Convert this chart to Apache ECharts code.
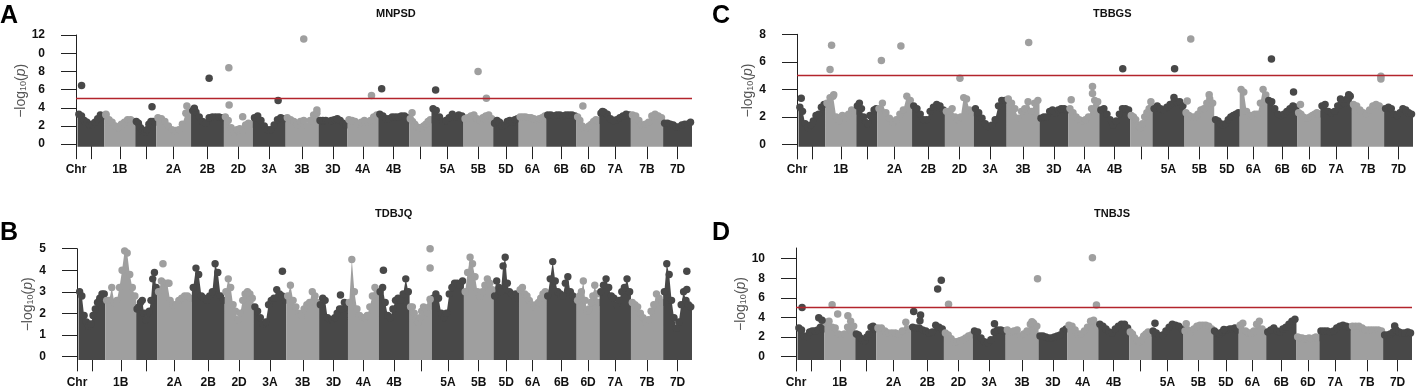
<!DOCTYPE html>
<html>
<head>
<meta charset="utf-8">
<script src="https://cdn.jsdelivr.net/npm/echarts@6/dist/echarts.min.js"></script>
<style>
  html, body { margin: 0; padding: 0; background: #fff; }
  #chart { width: 1416px; height: 389px; }
</style>
</head>
<body>
<div id="chart"></div>
<script>
// 染色体名称与长度 (Mb, 按图中宽度估计)
const chrNames = ['1A','1B','1D','2A','2B','2D','3A','3B','3D','4A','4B','4D','5A','5B','5D','6A','6B','6D','7A','7B','7D'];
const chrLen = [621, 713, 483, 805, 759, 667, 759, 759, 667, 713, 713, 515, 741, 685, 589, 635, 699, 529, 727, 745, 667];
// x轴标签: 第一个对应原点 "Chr", 空字符串表示该刻度无标签
const xLabels = ['Chr', '', '1B', '', '2A', '2B', '2D', '3A', '3B', '3D', '4A', '4B', '', '5A', '5B', '5D', '6A', '6B', '6D', '7A', '7B', '7D'];

// 每条染色体的 -log10(p) 上包络 (从左到右的采样)
const profA = [
  [3.3, 3.1, 2.6, 2.4, 2.1, 2.2, 2.4, 2.8, 3.2, 3.1],
  [3.2, 2.7, 2.4, 2.0, 1.8, 2.2, 2.4, 2.7, 2.7, 2.5],
  [2.5, 2.3, 1.8, 1.4, 1.3, 1.6, 2.2, 2.5, 2.5, 2.4],
  [2.9, 2.8, 2.5, 2.0, 1.6, 1.5, 1.6, 2.2, 3.4, 3.6],
  [3.7, 3.5, 3.0, 2.5, 2.3, 2.9, 3.0, 3.0, 3.0, 2.9],
  [3.0, 2.6, 1.8, 1.3, 1.6, 1.7, 1.5, 2.1, 2.3, 2.2],
  [2.9, 3.1, 2.6, 2.0, 1.6, 1.6, 2.1, 2.7, 2.9, 2.8],
  [2.9, 2.7, 2.5, 2.1, 2.5, 2.6, 2.0, 2.6, 3.2, 3.4],
  [2.6, 2.6, 2.6, 2.5, 2.6, 2.7, 2.8, 2.6, 2.3, 2.1],
  [2.7, 2.6, 2.5, 2.2, 2.4, 2.6, 2.4, 2.6, 3.0, 3.2],
  [3.3, 3.1, 2.8, 2.8, 3.0, 3.0, 3.0, 3.1, 3.1, 2.9],
  [2.8, 2.5, 2.2, 1.9, 1.8, 1.8, 2.0, 2.2, 2.5, 2.7],
  [3.9, 3.7, 3.0, 2.5, 2.6, 2.9, 3.3, 3.0, 3.2, 3.1],
  [2.8, 2.9, 3.1, 3.2, 2.8, 2.6, 2.9, 3.1, 3.2, 2.8],
  [2.3, 2.6, 2.4, 2.0, 2.1, 2.5, 2.6, 2.4, 2.7, 2.8],
  [3.0, 3.0, 3.0, 2.9, 2.9, 2.8, 2.7, 2.8, 2.9, 3.1],
  [3.2, 3.2, 3.1, 3.2, 3.2, 3.1, 3.2, 3.2, 3.2, 3.1],
  [3.0, 2.6, 2.0, 1.6, 1.8, 2.0, 2.2, 2.5, 2.7, 2.6],
  [3.4, 3.5, 3.3, 2.8, 2.6, 2.7, 2.9, 3.1, 3.3, 3.2],
  [3.2, 3.1, 2.6, 2.1, 2.2, 2.4, 3.1, 3.3, 3.1, 2.9],
  [2.3, 2.3, 2.2, 2.1, 1.9, 1.9, 2.1, 2.2, 2.2, 2.4]
];
// 离群点: [染色体序号, 染色体内相对位置, -log10(p)]
const outA = [
  [0, 0.15, 6.45], [1, 0.05, 3.3], [2, 0.8, 4.1], [3, 0.88, 4.2], [4, 0.1, 3.95], [4, 0.55, 7.25],
  [5, 0.17, 8.4], [5, 0.18, 4.3], [5, 0.65, 3.0], [6, 0.77, 4.8], [7, 0.55, 11.55], [7, 0.95, 3.75],
  [9, 0.78, 5.35], [10, 0.11, 6.1], [11, 0.13, 3.45], [12, 0.13, 5.95], [13, 0.49, 8.0], [13, 0.77, 5.05],
  [17, 0.28, 4.2], [18, 0.1, 3.6]
];

const profB = [
  [3.0, 2.8, 1.9, 1.6, 1.4, 1.5, 1.9, 2.2, 2.5, 2.7, 2.9, 2.9],
  [2.6, 2.6, 3.2, 2.5, 2.6, 3.2, 4.0, 4.9, 4.8, 3.8, 3.2, 2.8],
  [2.2, 2.3, 2.5, 2.6, 2.0, 1.7, 2.0, 2.1, 2.6, 3.6, 3.9, 3.2],
  [3.0, 3.5, 3.4, 3.4, 2.6, 2.4, 2.4, 2.6, 2.7, 2.8, 2.8, 2.7],
  [3.2, 4.1, 3.8, 2.8, 2.7, 2.6, 2.8, 3.0, 4.3, 3.9, 2.8, 2.6],
  [3.0, 3.6, 3.2, 2.4, 2.1, 1.7, 2.0, 2.6, 2.9, 3.0, 2.9, 2.7],
  [2.3, 2.1, 1.8, 1.5, 1.6, 2.4, 2.6, 2.7, 3.1, 2.9, 2.8, 2.6],
  [2.8, 3.3, 2.6, 2.3, 2.0, 1.9, 2.2, 2.4, 2.5, 3.0, 2.8, 2.5],
  [2.4, 2.7, 2.6, 1.8, 1.7, 1.7, 1.8, 2.0, 2.2, 2.2, 2.5, 2.3],
  [2.5, 4.5, 3.0, 2.2, 1.9, 1.8, 1.8, 1.9, 2.3, 2.8, 3.2, 3.0],
  [3.0, 3.2, 2.5, 1.9, 1.8, 2.2, 2.6, 2.7, 2.6, 2.9, 3.6, 3.0],
  [2.3, 2.3, 2.0, 1.7, 1.6, 1.8, 2.1, 2.3, 2.2, 2.0, 2.3, 2.5],
  [2.7, 2.9, 2.7, 2.0, 1.8, 2.0, 2.9, 3.2, 3.4, 3.4, 3.3, 3.5],
  [3.0, 3.9, 4.6, 4.3, 3.7, 3.0, 2.8, 3.0, 3.3, 3.6, 3.4, 3.1],
  [2.8, 3.5, 3.2, 3.0, 4.2, 4.6, 3.4, 3.0, 2.9, 2.8, 2.9, 2.7],
  [3.1, 3.2, 2.9, 2.8, 2.6, 2.4, 2.3, 2.4, 2.5, 2.7, 2.9, 3.0],
  [2.8, 3.6, 4.4, 3.5, 3.0, 2.9, 2.8, 3.4, 3.7, 3.0, 2.8, 2.7],
  [2.6, 2.8, 3.0, 3.5, 2.6, 2.1, 2.2, 2.5, 2.8, 3.3, 2.9, 2.5],
  [3.0, 3.3, 3.6, 3.2, 2.8, 2.7, 2.4, 2.6, 3.0, 3.2, 3.6, 3.0],
  [2.5, 2.4, 2.3, 2.0, 1.8, 1.6, 1.7, 2.1, 2.4, 2.9, 2.7, 2.5],
  [3.0, 4.3, 3.8, 2.6, 1.8, 1.3, 1.6, 2.4, 3.0, 2.6, 2.4, 2.3]
];
const outB = [
  [3, 0.17, 4.3], [3, 0.34, 3.4], [6, 0.88, 3.95], [8, 0.74, 2.85], [10, 0.15, 4.0],
  [11, 0.92, 5.0], [11, 0.92, 4.1], [11, 0.92, 2.65], [20, 0.82, 3.95], [20, 0.82, 3.1]
];

const profC = [
  [2.7, 2.4, 1.5, 1.2, 1.4, 1.7, 2.1, 2.2, 2.7, 2.9],
  [3.0, 3.4, 3.5, 2.0, 1.7, 2.1, 1.9, 2.2, 2.5, 2.4],
  [2.8, 3.0, 2.6, 2.0, 1.6, 1.5, 2.1, 2.0, 2.5, 2.6],
  [2.6, 3.0, 2.3, 1.9, 1.6, 1.8, 2.2, 2.5, 3.5, 3.2],
  [2.8, 2.6, 2.2, 1.8, 1.8, 2.4, 2.7, 2.9, 2.8, 2.5],
  [2.4, 2.4, 2.6, 2.0, 1.8, 2.0, 3.4, 3.3, 2.5, 2.3],
  [2.6, 2.3, 1.9, 1.5, 1.3, 1.4, 1.8, 2.8, 3.2, 3.2],
  [3.3, 3.0, 2.6, 1.9, 2.4, 2.6, 3.1, 2.4, 3.0, 3.2],
  [1.9, 2.0, 2.0, 2.4, 2.5, 2.3, 2.5, 2.6, 2.6, 2.5],
  [2.6, 2.3, 2.0, 1.8, 1.7, 1.8, 2.0, 2.6, 3.2, 3.1],
  [2.5, 2.6, 2.2, 1.8, 1.4, 1.7, 2.2, 2.6, 2.6, 2.5],
  [2.1, 2.0, 1.8, 1.4, 1.2, 1.5, 2.0, 2.3, 2.6, 2.7],
  [2.6, 2.8, 2.6, 2.5, 2.7, 2.9, 3.0, 3.1, 3.1, 2.8],
  [2.3, 2.1, 2.0, 2.0, 2.2, 2.5, 2.6, 3.0, 3.3, 3.0],
  [1.8, 1.7, 1.5, 1.4, 1.5, 1.8, 2.0, 2.1, 2.2, 2.3],
  [4.0, 3.8, 2.4, 2.1, 2.1, 2.2, 2.2, 3.0, 4.0, 3.6],
  [3.2, 3.1, 2.6, 2.2, 2.1, 2.2, 2.4, 2.6, 2.8, 2.7],
  [2.3, 2.2, 2.0, 1.9, 1.9, 2.0, 2.1, 2.2, 2.3, 2.2],
  [2.8, 2.9, 2.4, 2.3, 2.4, 2.8, 2.9, 3.0, 3.3, 3.5],
  [2.9, 2.8, 2.5, 2.3, 2.2, 2.5, 2.8, 2.9, 2.8, 2.6],
  [2.6, 2.7, 2.6, 2.2, 2.1, 2.3, 2.6, 2.5, 2.3, 2.2]
];
const outC = [
  [0, 0.1, 3.35], [1, 0.2, 7.2], [1, 0.15, 5.45], [1, 0.27, 3.6], [3, 0.12, 6.1], [3, 0.68, 7.15],
  [5, 0.52, 4.8], [7, 0.67, 7.4], [9, 0.09, 3.25], [9, 0.78, 4.2], [9, 0.78, 3.7], [10, 0.76, 5.5],
  [11, 0.93, 3.1], [12, 0.69, 5.5], [12, 0.67, 3.4], [13, 0.21, 7.65], [13, 0.09, 3.15], [13, 0.83, 3.6],
  [16, 0.14, 6.2], [16, 0.87, 3.8], [17, 0.13, 2.9], [18, 0.64, 3.3], [18, 0.9, 3.6], [19, 0.9, 4.95], [19, 0.9, 4.75]
];

const profD = [
  [2.9, 2.7, 2.1, 2.0, 2.5, 2.6, 2.6, 2.7, 3.0, 2.8],
  [3.5, 3.6, 3.0, 2.9, 2.3, 2.2, 2.3, 3.0, 3.6, 3.1],
  [2.3, 2.2, 1.9, 1.7, 1.6, 2.0, 2.3, 3.0, 3.1, 2.8],
  [2.9, 2.9, 2.6, 2.4, 2.4, 2.4, 2.3, 2.6, 3.5, 2.8],
  [3.0, 2.9, 2.9, 2.7, 2.6, 2.4, 2.5, 3.2, 3.0, 2.8],
  [2.4, 2.2, 1.8, 1.5, 1.5, 1.6, 1.7, 1.9, 2.1, 2.2],
  [2.6, 2.5, 1.9, 1.5, 1.4, 1.7, 2.5, 2.7, 2.7, 2.6],
  [2.7, 2.5, 2.6, 2.7, 2.1, 2.3, 2.6, 3.3, 3.4, 3.1],
  [2.1, 2.1, 2.0, 1.9, 1.9, 2.0, 2.1, 2.2, 2.6, 2.8],
  [3.2, 3.1, 2.7, 2.3, 2.3, 2.6, 3.0, 3.6, 3.7, 3.1],
  [3.3, 3.1, 2.8, 2.5, 2.4, 2.8, 3.1, 3.3, 3.3, 2.9],
  [2.5, 2.3, 1.9, 1.6, 1.5, 1.7, 2.1, 2.3, 2.5, 2.4],
  [2.6, 2.4, 2.1, 2.2, 2.6, 3.0, 3.3, 3.2, 3.1, 2.8],
  [2.6, 2.7, 2.5, 2.8, 3.1, 3.2, 3.2, 3.2, 3.1, 2.8],
  [2.6, 2.4, 2.3, 2.5, 2.6, 2.7, 2.8, 2.8, 2.9, 2.7],
  [3.2, 3.4, 2.6, 2.4, 2.4, 2.6, 3.3, 3.6, 2.8, 2.5],
  [2.5, 2.7, 2.9, 2.6, 2.5, 2.8, 3.0, 3.3, 3.6, 3.8],
  [2.0, 1.9, 1.9, 1.8, 1.8, 1.9, 1.8, 1.9, 2.0, 1.9],
  [2.6, 2.6, 2.6, 2.5, 2.6, 2.9, 3.1, 3.2, 3.1, 3.0],
  [3.1, 3.1, 3.1, 2.9, 2.7, 2.7, 2.7, 2.7, 2.7, 2.6],
  [2.2, 2.2, 2.3, 2.5, 2.7, 2.5, 2.4, 2.4, 2.5, 2.4]
];
const outD = [
  [0, 0.17, 5.0], [0, 0.79, 3.95], [0, 0.91, 3.7], [1, 0.25, 5.3], [1, 0.43, 4.35], [1, 0.76, 4.15],
  [4, 0.08, 4.6], [4, 0.29, 4.25], [4, 0.27, 3.65], [4, 0.81, 6.9], [4, 0.92, 7.8], [5, 0.16, 5.35],
  [6, 0.66, 3.35], [7, 0.97, 7.95], [7, 0.8, 3.55], [9, 0.81, 10.1], [9, 0.94, 5.25], [12, 0.11, 3.4],
  [13, 0.09, 3.35], [14, 0.42, 2.75], [20, 0.4, 3.1]
];

const DARK = '#484848';
const LIGHT = '#9f9f9f';
const RED = '#b3242c';
const FONT = 'Liberation Sans, Arial, sans-serif';
const GAP = 35; // 原点到第一条染色体的距离

// 染色体起点及刻度 (中心)
const chrStart = [];
let acc = GAP;
chrLen.forEach(l => { chrStart.push(acc); acc += l; });
const xMax = acc;
const xTicks = [0].concat(chrStart.map((s, k) => Math.round(s + chrLen[k] / 2)));

// 四个子图的设置
const panels = [
  { letter: 'A', title: 'MNPSD', prof: profA, out: outA, grid: { left: 76, top: 35, width: 616, height: 111.7 }, yMin: -0.28, yMax: 12, yTicks: [0, 2, 4, 6, 8, 10, 12], thr: 5, letterPos: [0, 4], titlePos: [376, 8] },
  { letter: 'B', title: 'TDBJQ', prof: profB, out: outB, grid: { left: 77, top: 248.7, width: 615, height: 113.3 }, yMin: -0.17, yMax: 5, yTicks: [0, 1, 2, 3, 4, 5], thr: null, letterPos: [0, 221], titlePos: [375, 208] },
  { letter: 'C', title: 'TBBGS', prof: profC, out: outC, grid: { left: 797, top: 34.3, width: 616, height: 112.4 }, yMin: -0.17, yMax: 8, yTicks: [0, 2, 4, 6, 8], thr: 5, letterPos: [712, 4], titlePos: [1093, 8] },
  { letter: 'D', title: 'TNBJS', prof: profD, out: outD, grid: { left: 796, top: 248, width: 616, height: 114 }, yMin: -0.37, yMax: 11.1, yTicks: [0, 2, 4, 6, 8, 10], thr: 5, letterPos: [712, 221], titlePos: [1094, 208] }
];

const chart = echarts.init(document.getElementById('chart'), null, { renderer: 'canvas' });

const grids = [], xAxes = [], yAxes = [], series = [], titles = [];

panels.forEach((p, i) => {
  grids.push(Object.assign({ containLabel: false }, p.grid));

  xAxes.push({
    type: 'value', gridIndex: i, min: 0, max: xMax,
    axisLine: { show: false },
    splitLine: { show: false },
    axisTick: { show: true, inside: false, length: 15, customValues: xTicks, lineStyle: { color: '#222', width: 1 } },
    axisLabel: {
      show: true, margin: 17, customValues: xTicks,
      fontFamily: FONT, fontSize: 12, fontWeight: 'bold', color: '#111',
      formatter: v => {
        let best = 0;
        xTicks.forEach((t, j) => { if (Math.abs(t - v) < Math.abs(xTicks[best] - v)) best = j; });
        return xLabels[best];
      }
    }
  });

  yAxes.push({
    type: 'value', gridIndex: i, min: p.yMin, max: p.yMax,
    axisLine: { show: true, onZero: false, lineStyle: { color: '#222', width: 1 } },
    splitLine: { show: false },
    axisTick: { show: true, inside: false, length: 15, customValues: p.yTicks, lineStyle: { color: '#222', width: 1 } },
    axisLabel: {
      show: true, margin: 31, customValues: p.yTicks,
      fontFamily: FONT, fontSize: 12, fontWeight: 'bold', color: '#111',
      // 原图A中"10"只显示为"0"
      formatter: v => (p.letter === 'A' && Math.round(v) === 10) ? '0' : String(Math.round(v))
    },
    name: '{a|−log}{s|10}{a|(}{i|p}{a|)}',
    nameLocation: 'middle', nameGap: 34, nameRotate: 90,
    nameTextStyle: {
      color: '#555', fontFamily: FONT, fontSize: 14,
      rich: {
        a: { fontFamily: FONT, fontSize: 14, color: '#555' },
        s: { fontFamily: FONT, fontSize: 9, color: '#555', verticalAlign: 'bottom', padding: [5, 0, 0, 0] },
        i: { fontFamily: FONT, fontSize: 14, color: '#555', fontStyle: 'italic' }
      }
    }
  });

  // 密集的SNP点: 每条染色体一个多边形加上圆形顶端
  const prof = p.prof;
  const yMin = p.yMin;
  series.push({
    type: 'custom', xAxisIndex: i, yAxisIndex: i, clip: false, silent: true,
    data: chrStart.map((s, k) => [s, s + chrLen[k], k]),
    encode: { x: [0, 1] },
    renderItem: (params, api) => {
      const s = api.value(0), e = api.value(1), k = api.value(2);
      const vals = prof[k];
      const n = vals.length;
      const color = k % 2 ? LIGHT : DARK;
      const xs = vals.map((v, j) => s + (j + 0.5) / n * (e - s));
      const pts = [api.coord([s, yMin]), api.coord([s, vals[0]])];
      vals.forEach((v, j) => pts.push(api.coord([xs[j], v])));
      pts.push(api.coord([e, vals[n - 1]]));
      pts.push(api.coord([e, yMin]));
      const children = [{ type: 'polygon', shape: { points: pts }, style: { fill: color } }];
      vals.forEach((v, j) => {
        const c = api.coord([xs[j], v]);
        children.push({ type: 'circle', shape: { cx: c[0], cy: c[1], r: 3.7 }, style: { fill: color } });
      });
      return { type: 'group', children: children };
    }
  });

  // 离群点 + 显著性阈值线
  const sc = {
    type: 'scatter', xAxisIndex: i, yAxisIndex: i, symbol: 'circle', symbolSize: 7.5, silent: true,
    data: p.out.map(o => [chrStart[o[0]] + o[1] * chrLen[o[0]], o[2], o[0] % 2]),
    itemStyle: { color: params => params.value[2] ? LIGHT : DARK, opacity: 1 }
  };
  if (p.thr !== null) {
    sc.markLine = {
      silent: true, symbol: 'none', label: { show: false },
      lineStyle: { color: RED, width: 1.3, type: 'solid' },
      data: [{ yAxis: p.thr }]
    };
  }
  series.push(sc);

  titles.push({ text: p.letter, left: p.letterPos[0], top: p.letterPos[1], padding: 0,
    textStyle: { fontFamily: FONT, fontSize: 25, fontWeight: 'bold', color: '#000' } });
  titles.push({ text: p.title, left: p.titlePos[0], top: p.titlePos[1], padding: 0,
    textStyle: { fontFamily: FONT, fontSize: 11, fontWeight: 'bold', color: '#111' } });
});

chart.setOption({
  animation: false,
  backgroundColor: '#fff',
  title: titles,
  grid: grids,
  xAxis: xAxes,
  yAxis: yAxes,
  series: series
});
</script>
</body>
</html>
